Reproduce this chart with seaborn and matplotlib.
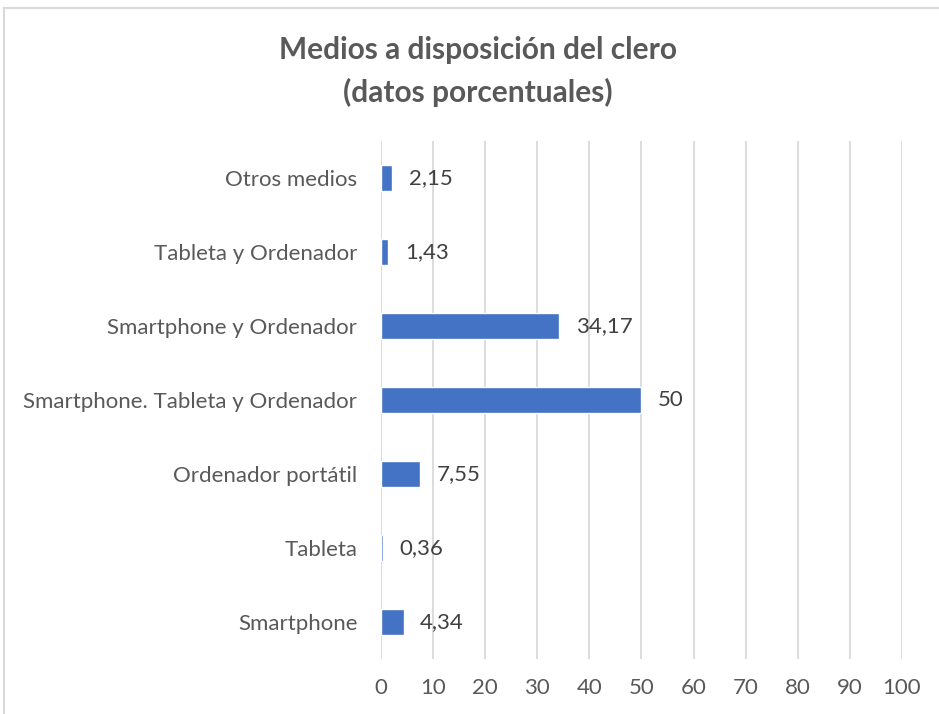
import matplotlib
matplotlib.use("Agg")
import matplotlib.pyplot as plt
import seaborn as sns
import pandas as pd
from matplotlib.patches import Rectangle

# categories listed top to bottom as in the chart
medios = ["Otros medios",
          "Tableta y Ordenador",
          "Smartphone y Ordenador",
          "Smartphone. Tableta y Ordenador",
          "Ordenador portátil",
          "Tableta",
          "Smartphone"]
porcentajes = [2.15, 1.43, 34.17, 50, 7.55, 0.36, 4.34]
etiquetas = ["2,15", "1,43", "34,17", "50", "7,55", "0,36", "4,34"]

df = pd.DataFrame({"medio": medios, "pct": porcentajes})

sns.set_style("white")
plt.rcParams["font.family"] = ["Lato", "DejaVu Sans"]

fig = plt.figure(figsize=(9.39, 7.14), dpi=100)
ax = fig.add_axes([0.4057, 0.077, 0.5549, 0.7255])

sns.barplot(data=df, x="pct", y="medio", order=medios, color="#4472C4",
            width=0.35, saturation=1, ax=ax, zorder=3)

ax.set_xlim(0, 100)
ax.set_xticks(range(0, 101, 10))
ax.grid(axis="x", color="#d9d9d9", linewidth=1.3, zorder=0)
ax.set_axisbelow(True)
ax.set_xlabel("")
ax.set_ylabel("")
sns.despine(ax=ax, left=True, bottom=True)
ax.tick_params(axis="both", length=0, labelsize=16, labelcolor="#595959")
ax.tick_params(axis="y", pad=17)
ax.tick_params(axis="x", pad=14)

for i, (v, t) in enumerate(zip(porcentajes, etiquetas)):
    ax.annotate(t, xy=(v, i), xytext=(12, 0), textcoords="offset points",
                ha="left", va="center", fontsize=16, color="#404040")

fig.text(0.509, 0.93, "Medios a disposición del clero", ha="center",
         va="center", fontsize=21.5, fontweight="bold", color="#595959")
fig.text(0.509, 0.87, "(datos porcentuales)", ha="center",
         va="center", fontsize=21.5, fontweight="bold", color="#595959")

# chart frame (only top and left edges visible in the picture)
frame = Rectangle((4 / 939, -0.05), 1.2, 1 - 8 / 714 + 0.05,
                  transform=fig.transFigure, fill=False,
                  edgecolor="#d9d9d9", linewidth=1.5)
fig.add_artist(frame)

fig.savefig("out.png", dpi=100, facecolor="white")
